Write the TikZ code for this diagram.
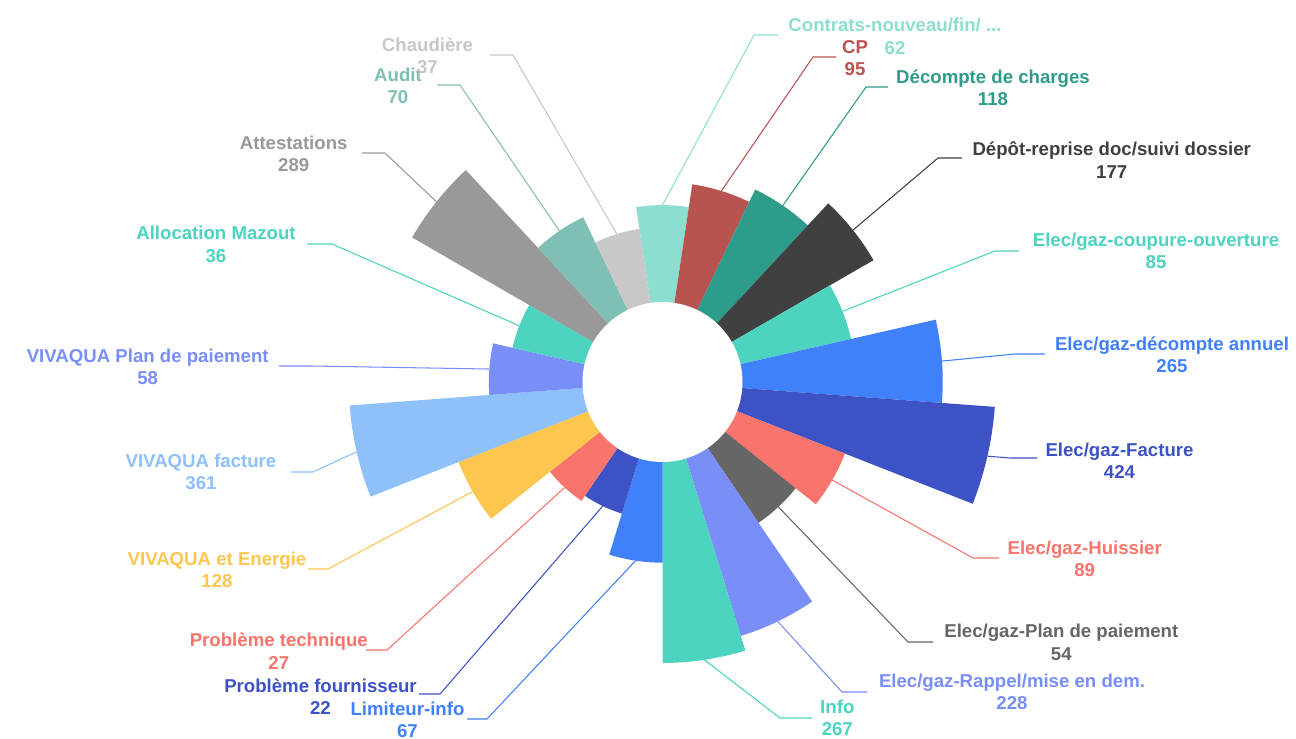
\documentclass[tikz,border=0pt]{standalone}
\usepackage{fontspec}
\setmainfont{Liberation Sans}
\usetikzlibrary{calc}
\definecolor{cTealL}{HTML}{8CDFD0}
\definecolor{cCP}{HTML}{B85450}
\definecolor{cTealD}{HTML}{2E9C8A}
\definecolor{cDark}{HTML}{404040}
\definecolor{cTurq}{HTML}{4CD4C0}
\definecolor{cBlue}{HTML}{4080F8}
\definecolor{cNavy}{HTML}{3D52C4}
\definecolor{cSalmon}{HTML}{F8746C}
\definecolor{cGray}{HTML}{666666}
\definecolor{cPeri}{HTML}{7A8EF8}
\definecolor{cYellow}{HTML}{FCC64F}
\definecolor{cSky}{HTML}{8EC0FA}
\definecolor{cMid}{HTML}{999999}
\definecolor{cAudit}{HTML}{7FBFB4}
\definecolor{cLight}{HTML}{C8C8C8}
% #1 index, #2 value, #3 colour
\newcommand\roseslice[3]{%
  \pgfmathsetmacro\aA{(#1-1.5)*360/21-90}%
  \pgfmathsetmacro\aB{(#1-0.5)*360/21-90}%
  \pgfmathsetmacro\aM{(#1-1)*360/21-90}%
  \pgfmathsetmacro\rr{80+12.3*sqrt(#2)}%
  \fill[#3] (662.5,382) -- plot[domain=\aA:\aB,samples=16] ({662.5+\rr*cos(\x)},{382+\rr*sin(\x)}) -- cycle;
  \coordinate (w#1) at ({662.5+\rr*cos(\aM)},{382+\rr*sin(\aM)});
}
\begin{document}
\begin{tikzpicture}[x=0.02cm,y=-0.02cm,
  lab/.style={font=\fontsize{10.6}{12.8}\selectfont\bfseries, align=center, inner sep=0pt},
  lead/.style={line width=0.6pt}]
\useasboundingbox (0,0) rectangle (1296,738);
\fill[white] (0,0) rectangle (1296,738);
% slices
\roseslice{1}{62}{cTealL}
\roseslice{2}{95}{cCP}
\roseslice{3}{118}{cTealD}
\roseslice{4}{177}{cDark}
\roseslice{5}{85}{cTurq}
\roseslice{6}{265}{cBlue}
\roseslice{7}{424}{cNavy}
\roseslice{8}{89}{cSalmon}
\roseslice{9}{54}{cGray}
\roseslice{10}{228}{cPeri}
\roseslice{11}{267}{cTurq}
\roseslice{12}{67}{cBlue}
\roseslice{13}{22}{cNavy}
\roseslice{14}{27}{cSalmon}
\roseslice{15}{128}{cYellow}
\roseslice{16}{361}{cSky}
\roseslice{17}{58}{cPeri}
\roseslice{18}{36}{cTurq}
\roseslice{19}{289}{cMid}
\roseslice{20}{70}{cAudit}
\roseslice{21}{37}{cLight}
\fill[white] (662.5,382) circle (1.6cm);
% leader bends and ends
\coordinate (b1) at (754,35);   \coordinate (e1) at (778,35);
\coordinate (b2) at (813,57);   \coordinate (e2) at (836,57);
\coordinate (b3) at (866,87);   \coordinate (e3) at (888,87);
\coordinate (b4) at (938,158);  \coordinate (e4) at (962,158);
\coordinate (b5) at (995,251);  \coordinate (e5) at (1019,251);
\coordinate (b6) at (1015,354); \coordinate (e6) at (1045,354);
\coordinate (b7) at (1010,458); \coordinate (e7) at (1037,458);
\coordinate (b8) at (973,558);  \coordinate (e8) at (999,558);
\coordinate (b9) at (908,642);  \coordinate (e9) at (933,642);
\coordinate (b10) at (842,692); \coordinate (e10) at (867,692);
\coordinate (b11) at (780,718); \coordinate (e11) at (812,718);
\coordinate (b12) at (487,719); \coordinate (e12) at (467,719);
\coordinate (b13) at (440,694); \coordinate (e13) at (419,694);
\coordinate (b14) at (387,650); \coordinate (e14) at (366,650);
\coordinate (b15) at (328,569); \coordinate (e15) at (308,569);
\coordinate (b16) at (313,472); \coordinate (e16) at (291,472);
\coordinate (b17) at (312,366); \coordinate (e17) at (279,366);
\coordinate (b18) at (332,244); \coordinate (e18) at (307,244);
\coordinate (b19) at (385,153); \coordinate (e19) at (362,153);
\coordinate (b20) at (460,85);  \coordinate (e20) at (437,85);
\coordinate (b21) at (513,55);  \coordinate (e21) at (490,55);
\draw[lead,cTealL] (w1) -- (b1) -- (e1);
\draw[lead,cCP] (w2) -- (b2) -- (e2);
\draw[lead,cTealD] (w3) -- (b3) -- (e3);
\draw[lead,cDark] (w4) -- (b4) -- (e4);
\draw[lead,cTurq] (w5) -- (b5) -- (e5);
\draw[lead,cBlue] (w6) -- (b6) -- (e6);
\draw[lead,cNavy] (w7) -- (b7) -- (e7);
\draw[lead,cSalmon] (w8) -- (b8) -- (e8);
\draw[lead,cGray] (w9) -- (b9) -- (e9);
\draw[lead,cPeri] (w10) -- (b10) -- (e10);
\draw[lead,cTurq] (w11) -- (b11) -- (e11);
\draw[lead,cBlue] (w12) -- (b12) -- (e12);
\draw[lead,cNavy] (w13) -- (b13) -- (e13);
\draw[lead,cSalmon] (w14) -- (b14) -- (e14);
\draw[lead,cYellow] (w15) -- (b15) -- (e15);
\draw[lead,cSky] (w16) -- (b16) -- (e16);
\draw[lead,cPeri] (w17) -- (b17) -- (e17);
\draw[lead,cTurq] (w18) -- (b18) -- (e18);
\draw[lead,cMid] (w19) -- (b19) -- (e19);
\draw[lead,cAudit] (w20) -- (b20) -- (e20);
\draw[lead,cLight] (w21) -- (b21) -- (e21);
% labels
\node[lab,cTealL] (l1) at (895,36.5) {Contrats-nouveau/fin/ ...\\62};
\node[lab,cCP] (l2) at (855,58.3) {CP\\95};
\node[lab,cTealD] (l3) at (993,87.9) {Décompte de charges\\118};
\node[lab,cDark] (l4) at (1111.7,160) {Dépôt-reprise doc/suivi dossier\\177};
\node[lab,cTurq] (l5) at (1156,251) {Elec/gaz-coupure-ouverture\\85};
\node[lab,cBlue] (l6) at (1172,355) {Elec/gaz-décompte annuel\\265};
\node[lab,cNavy] (l7) at (1119.5,460.5) {Elec/gaz-Facture\\424};
\node[lab,cSalmon] (l8) at (1084.7,558.7) {Elec/gaz-Huissier\\89};
\node[lab,cGray] (l9) at (1061.3,642.3) {Elec/gaz-Plan de paiement\\54};
\node[lab,cPeri] (l10) at (1012,692) {Elec/gaz-Rappel/mise en dem.\\228};
\node[lab,cTurq] (l11) at (837.3,718) {Info\\267};
\node[lab,cBlue] (l12) at (407.5,720) {Limiteur-info\\67};
\node[lab,cNavy] (l13) at (320.5,696.8) {Problème fournisseur\\22};
\node[lab,cSalmon] (l14) at (278.8,651) {Problème technique\\27};
\node[lab,cYellow] (l15) at (217,569.7) {VIVAQUA et Energie\\128};
\node[lab,cSky] (l16) at (201,471.7) {VIVAQUA facture\\361};
\node[lab,cPeri] (l17) at (147.7,367) {VIVAQUA Plan de paiement\\58};
\node[lab,cTurq] (l18) at (216,244.5) {Allocation Mazout\\36};
\node[lab,cMid] (l19) at (293.7,153.9) {Attestations\\289};
\node[lab,cAudit] (l20) at (398,86) {Audit\\70};
\node[lab,cLight] (l21) at (427.5,56) {Chaudière\\37};
\end{tikzpicture}
\end{document}
